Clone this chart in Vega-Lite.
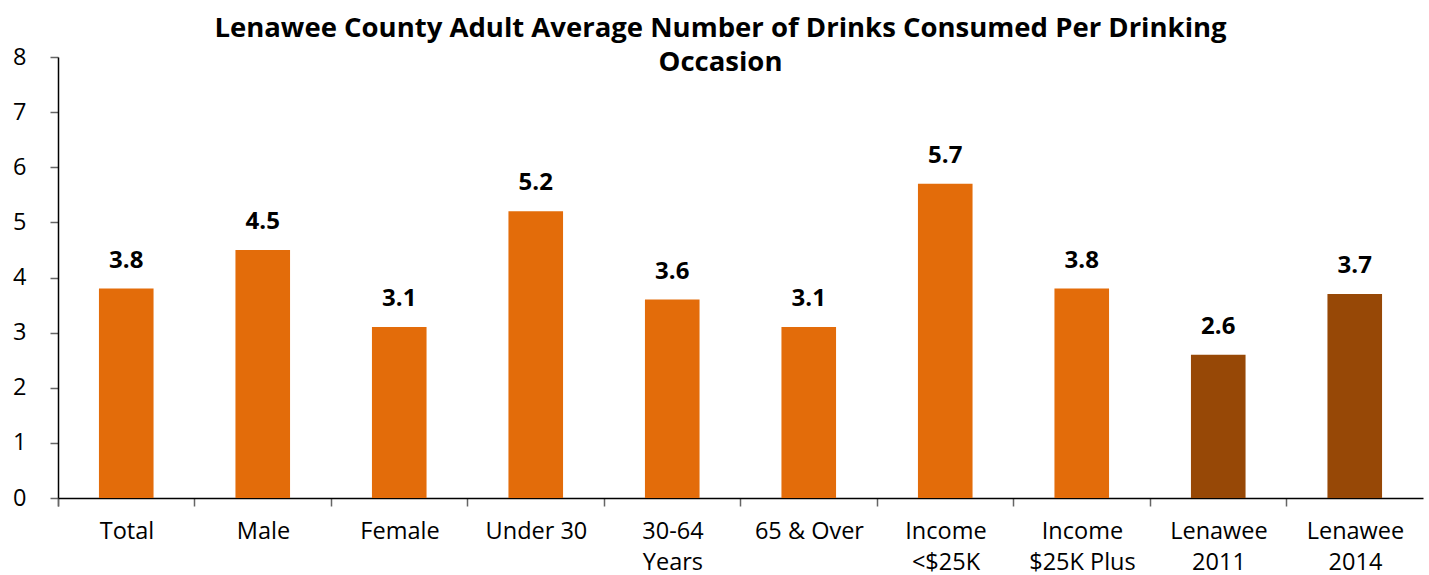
{
  "$schema": "https://vega.github.io/schema/vega-lite/v6.json",
  "width": 1365,
  "height": 441,
  "autosize": {"type": "none"},
  "padding": {"left": 58, "top": 57, "right": 6, "bottom": 77},
  "background": "white",
  "title": {
    "text": ["Lenawee County Adult Average Number of Drinks Consumed Per Drinking", "Occasion"],
    "font": "Open Sans",
    "fontSize": 27.5,
    "fontWeight": "bold",
    "color": "black",
    "anchor": "middle",
    "frame": "group",
    "dx": -20,
    "offset": -31,
    "lineHeight": 34
  },
  "data": {
    "values": [
      {"category": "Total", "value": 3.8, "group": "Subgroup"},
      {"category": "Male", "value": 4.5, "group": "Subgroup"},
      {"category": "Female", "value": 3.1, "group": "Subgroup"},
      {"category": "Under 30", "value": 5.2, "group": "Subgroup"},
      {"category": "30-64|Years", "value": 3.6, "group": "Subgroup"},
      {"category": "65 & Over", "value": 3.1, "group": "Subgroup"},
      {"category": "Income|<$25K", "value": 5.7, "group": "Subgroup"},
      {"category": "Income|$25K Plus", "value": 3.8, "group": "Subgroup"},
      {"category": "Lenawee|2011", "value": 2.6, "group": "County"},
      {"category": "Lenawee|2014", "value": 3.7, "group": "County"}
    ]
  },
  "encoding": {
    "x": {
      "field": "category",
      "type": "nominal",
      "sort": null,
      "scale": {"paddingInner": 0.6, "paddingOuter": 0.3},
      "axis": {
        "title": null,
        "labelAngle": 0,
        "labelExpr": "split(datum.label, '|')",
        "labelFont": "Open Sans",
        "labelFontSize": 23.5,
        "labelColor": "black",
        "labelLineHeight": 31,
        "labelPadding": 13,
        "labelBaseline": "top",
        "bandPosition": 0,
        "tickExtra": true,
        "tickOffset": -41,
        "labelOffset": 41.2,
        "ticks": true,
        "tickSize": 8,
        "tickWidth": 1.5,
        "tickColor": "#666666",
        "domainColor": "black",
        "domainWidth": 1.5,
        "labelLimit": 300
      }
    },
    "y": {
      "field": "value",
      "type": "quantitative",
      "scale": {"domain": [0, 8]},
      "axis": {
        "title": null,
        "values": [0, 1, 2, 3, 4, 5, 6, 7, 8],
        "grid": false,
        "labelFont": "Open Sans",
        "labelFontSize": 23.5,
        "labelColor": "black",
        "labelPadding": 24,
        "tickSize": 8,
        "tickWidth": 1.5,
        "tickColor": "#666666",
        "domainColor": "black",
        "domainWidth": 1.5
      }
    }
  },
  "layer": [
    {
      "mark": {"type": "bar"},
      "encoding": {
        "color": {
          "field": "group",
          "type": "nominal",
          "scale": {"domain": ["Subgroup", "County"], "range": ["#E36C0A", "#974806"]},
          "legend": null
        }
      }
    },
    {
      "mark": {"type": "text", "baseline": "bottom", "dy": -16, "font": "Open Sans", "fontSize": 24, "fontWeight": "bold", "color": "black"},
      "encoding": {
        "text": {"field": "value", "type": "quantitative", "format": ".1f"}
      }
    }
  ],
  "config": {"view": {"stroke": null}}
}
